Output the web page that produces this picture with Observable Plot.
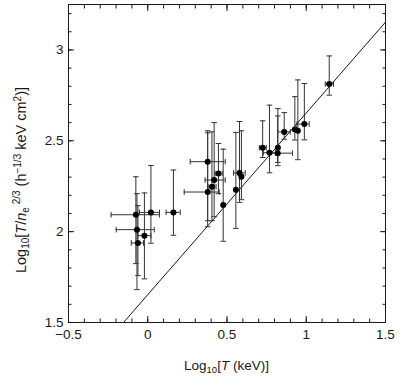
<!DOCTYPE html>
<html>
<head>
<meta charset="utf-8">
<script src="https://cdn.jsdelivr.net/npm/d3@7"></script>
<script src="https://cdn.jsdelivr.net/npm/@observablehq/plot@0.6"></script>
<style>
  html, body { margin: 0; padding: 0; background: #fff; }
  svg text { font-family: "Liberation Sans", Arial, Helvetica, sans-serif; }
</style>
</head>
<body>
<div id="chart"></div>
<script>
// --- data ---
const xs  = [-0.075,-0.068,-0.062,-0.021,0.020,0.162,0.378,0.378,0.405,0.419,0.446,0.476,0.556,0.579,0.591,0.725,0.768,0.821,0.820,0.861,0.928,0.947,0.988,1.145];
const ys  = [2.093,2.011,1.938,1.978,2.106,2.106,2.385,2.218,2.247,2.284,2.320,2.146,2.231,2.323,2.302,2.462,2.434,2.462,2.432,2.549,2.562,2.555,2.592,2.812];
const xLo = [-0.231,-0.199,-0.104,-0.062,-0.052,0.116,0.268,0.230,0.381,0.362,0.425,null,null,0.541,null,0.704,0.729,null,0.773,0.819,null,null,0.941,1.120];
const xHi = [0.074,0.041,-0.027,0.020,0.074,0.205,0.489,0.451,0.431,0.489,0.470,null,null,0.615,null,0.748,0.805,null,0.913,0.899,null,null,1.019,1.172];
const yLo = [1.824,1.681,1.758,1.740,1.936,1.980,2.060,2.027,2.060,2.082,2.209,1.947,2.018,2.161,2.176,2.408,2.324,2.363,2.381,2.509,2.504,2.396,2.505,2.751];
const yHi = [2.302,2.209,2.143,2.213,2.364,2.339,2.555,2.544,2.549,2.600,2.485,2.454,2.546,2.606,2.555,2.610,2.696,2.677,2.637,2.655,2.743,2.835,2.815,2.967];

// self-similar relation (slope 1)
const relX = [-0.153, 1.5];
const relY = [1.5, 3.153];

const xMajor = [-0.5, 0, 0.5, 1, 1.5];
const yMajor = [1.5, 2, 2.5, 3];
const xMinor = d3.range(-5, 16).map(i => i / 10);
const yMinor = d3.range(15, 33).map(i => i / 10);

// --- tables ---
const pts = xs.map((x, i) => ({x, y: ys[i], xlo: xLo[i], xhi: xHi[i], ylo: yLo[i], yhi: yHi[i]}));
const withX = pts.filter(d => d.xlo != null);
const rel = relX.map((x, i) => ({x, y: relY[i]}));

const capH = {draw(ctx, size) { const w = Math.sqrt(size / Math.PI); ctx.moveTo(-w, 0); ctx.lineTo(w, 0); }};
const capV = {draw(ctx, size) { const w = Math.sqrt(size / Math.PI); ctx.moveTo(0, -w); ctx.lineTo(0, w); }};

const fmt = d => (d < 0 ? "\u2212" + String(-d) : String(d));
const ink = "#1a1a1a";
const bar = "#333";

const chart = Plot.plot({
  width: 408,
  height: 382,
  marginLeft: 68,
  marginRight: 23,
  marginTop: 4,
  marginBottom: 60,
  style: {background: "#fff", color: ink, fontSize: "13px", fontFamily: "Liberation Sans, Arial, sans-serif"},
  x: {domain: [-0.5, 1.5], label: null},
  y: {domain: [1.5, 3.25], label: null},
  marks: [
    // error bars
    Plot.ruleX(pts, {x: "x", y1: "ylo", y2: "yhi", stroke: bar, strokeWidth: 1}),
    Plot.dot(pts, {x: "x", y: "ylo", symbol: capH, r: 2.8, stroke: bar, strokeWidth: 1}),
    Plot.dot(pts, {x: "x", y: "yhi", symbol: capH, r: 2.8, stroke: bar, strokeWidth: 1}),
    Plot.ruleY(withX, {y: "y", x1: "xlo", x2: "xhi", stroke: bar, strokeWidth: 1}),
    Plot.dot(withX, {x: "xlo", y: "y", symbol: capV, r: 2.8, stroke: bar, strokeWidth: 1}),
    Plot.dot(withX, {x: "xhi", y: "y", symbol: capV, r: 2.8, stroke: bar, strokeWidth: 1}),
    // relation line
    Plot.line(rel, {x: "x", y: "y", stroke: ink, strokeWidth: 1, clip: true}),
    // points
    Plot.dot(pts, {x: "x", y: "y", r: 3, fill: "#000"}),
    // inward ticks
    Plot.axisX(xMinor, {anchor: "bottom", tickSize: -3.5, tickFormat: () => "", label: null, stroke: ink}),
    Plot.axisX(xMajor, {anchor: "bottom", tickSize: -6, tickFormat: () => "", label: null, stroke: ink}),
    Plot.axisX(xMinor, {anchor: "top", tickSize: -3.5, tickFormat: () => "", label: null, stroke: ink}),
    Plot.axisX(xMajor, {anchor: "top", tickSize: -6, tickFormat: () => "", label: null, stroke: ink}),
    Plot.axisY(yMinor, {anchor: "left", tickSize: -3.5, tickFormat: () => "", label: null, stroke: ink}),
    Plot.axisY(yMajor, {anchor: "left", tickSize: -6, tickFormat: () => "", label: null, stroke: ink}),
    Plot.axisY(yMinor, {anchor: "right", tickSize: -3.5, tickFormat: () => "", label: null, stroke: ink}),
    Plot.axisY(yMajor, {anchor: "right", tickSize: -6, tickFormat: () => "", label: null, stroke: ink}),
    // tick labels
    Plot.axisX(xMajor, {anchor: "bottom", tickSize: 0, tickPadding: 7, tickFormat: fmt, label: null, fontSize: 13.5, fill: ink}),
    Plot.axisY(yMajor, {anchor: "left", tickSize: 0, tickPadding: 5, tickFormat: fmt, label: null, fontSize: 13.5, fill: ink}),
    Plot.frame({stroke: ink, strokeWidth: 1})
  ]
});

document.getElementById("chart").appendChild(chart);

// axis titles with sub/superscripts
const svg = d3.select(chart);
const xt = svg.append("text")
  .attr("x", 226.5).attr("y", 370)
  .attr("text-anchor", "middle")
  .attr("fill", ink).attr("font-size", 13.5);
xt.append("tspan").text("Log");
xt.append("tspan").attr("font-size", 9.5).attr("dy", 3).text("10");
xt.append("tspan").attr("dy", -3).text("[");
xt.append("tspan").attr("font-style", "italic").text("T");
xt.append("tspan").text(" (keV)]");

const yt = svg.append("text")
  .attr("transform", "translate(26,180) rotate(-90)")
  .attr("text-anchor", "middle")
  .attr("fill", ink).attr("font-size", 14.5);
yt.append("tspan").text("Log");
yt.append("tspan").attr("font-size", 10).attr("dy", 3).text("10");
yt.append("tspan").attr("dy", -3).text("[");
yt.append("tspan").attr("font-style", "italic").text("T");
yt.append("tspan").text("/");
yt.append("tspan").attr("font-style", "italic").text("n");
yt.append("tspan").attr("font-size", 10).attr("dy", 3).text("e");
yt.append("tspan").attr("font-size", 10).attr("dy", -9).text(" 2/3");
yt.append("tspan").attr("dy", 6).text(" (h");
yt.append("tspan").attr("font-size", 10).attr("dy", -5).text("\u22121/3");
yt.append("tspan").attr("dy", 5).text(" keV cm");
yt.append("tspan").attr("font-size", 10).attr("dy", -5).text("2");
yt.append("tspan").attr("dy", 5).text(")]");
</script>
</body>
</html>
